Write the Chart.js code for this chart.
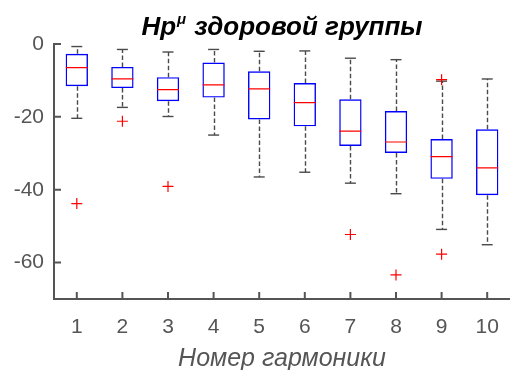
<!DOCTYPE html>
<html>
<head>
<meta charset="utf-8">
<script src="https://cdn.jsdelivr.net/npm/chart.js@4.4.1/dist/chart.umd.min.js"></script>
<style>
  body { margin: 0; background: #fff; }
  #wrap { width: 510px; height: 370px; }
</style>
</head>
<body>
<div id="wrap"><canvas id="myChart" width="510" height="370"></canvas></div>
<script>
const harmonics = ['1', '2', '3', '4', '5', '6', '7', '8', '9', '10'];

// box statistics
const whiskerHigh = [-0.7, -1.5, -2.2, -1.5, -2.0, -1.9, -3.9, -4.3, -10.2, -9.6];
const upperQuart = [-2.7, -6.3, -9.1, -5.1, -7.5, -10.7, -15.2, -18.4, -26.1, -23.4];
const medians = [-6.5, -9.6, -12.5, -11.2, -12.3, -16.1, -23.9, -26.9, -30.9, -34.0];
const lowerQuart = [-11.6, -12.1, -15.7, -14.7, -20.7, -22.6, -28.0, -29.9, -37.0, -41.5];
const whiskerLow = [-20.4, -17.4, -19.9, -25.0, -36.5, -35.2, -38.2, -41.1, -50.9, -55.1];

const outliers = [
    { x: '1', y: -43.8 },
    { x: '2', y: -21.2 },
    { x: '3', y: -39.1 },
    { x: '7', y: -52.3 },
    { x: '8', y: -63.4 },
    { x: '9', y: -9.8 },
    { x: '9', y: -57.7 }
];

const yTicks = [0, -20, -40, -60];

const axisColor = '#555555';
const whiskerColor = '#4a4a4a';
const font = 'Liberation Sans, Arial, sans-serif';

// dashed whiskers + inward ticks + title, drawn through the chart scales
const boxExtras = {
    id: 'boxExtras',
    beforeDatasetsDraw(chart) {
        const { ctx, scales: { x, y } } = chart;
        ctx.save();
        ctx.strokeStyle = whiskerColor;
        ctx.lineWidth = 1.4;
        ctx.setLineDash([4.5, 2.5]);
        harmonics.forEach((h, i) => {
            const px = Math.round(x.getPixelForValue(i)) + 0.5;
            ctx.beginPath();
            ctx.moveTo(px, y.getPixelForValue(upperQuart[i]));
            ctx.lineTo(px, y.getPixelForValue(whiskerHigh[i]));
            ctx.moveTo(px, y.getPixelForValue(lowerQuart[i]));
            ctx.lineTo(px, y.getPixelForValue(whiskerLow[i]));
            ctx.stroke();
        });
        ctx.restore();
    },
    afterDraw(chart) {
        const { ctx, chartArea, scales: { x, y } } = chart;
        ctx.save();
        ctx.strokeStyle = axisColor;
        ctx.lineWidth = 2;
        ctx.beginPath();
        harmonics.forEach((h, i) => {
            const px = x.getPixelForValue(i);
            ctx.moveTo(px, chartArea.bottom);
            ctx.lineTo(px, chartArea.bottom - 7);
        });
        yTicks.forEach(v => {
            const py = y.getPixelForValue(v);
            ctx.moveTo(chartArea.left, py);
            ctx.lineTo(chartArea.left + 7, py);
        });
        ctx.stroke();

        // title with superscript mu
        const cx = (chartArea.left + chartArea.right) / 2;
        const big = 'italic bold 26px ' + font;
        const small = 'italic bold 15px ' + font;
        const t1 = 'Hp', t2 = '\u03bc', t3 = ' здоровой группы';
        ctx.font = big;
        const w1 = ctx.measureText(t1).width;
        const w3 = ctx.measureText(t3).width;
        ctx.font = small;
        const w2 = ctx.measureText(t2).width + 2;
        let sx = cx - (w1 + w2 + w3) / 2;
        const base = 35;
        ctx.fillStyle = '#000';
        ctx.textBaseline = 'alphabetic';
        ctx.textAlign = 'left';
        ctx.font = big;
        ctx.fillText(t1, sx, base);
        ctx.font = small;
        ctx.fillText(t2, sx + w1 + 1, base - 11);
        ctx.font = big;
        ctx.fillText(t3, sx + w1 + w2, base);
        ctx.restore();
    }
};

const ctx = document.getElementById('myChart');

new Chart(ctx, {
    type: 'bar',
    data: {
        labels: harmonics,
        datasets: [{
            label: 'box',
            data: harmonics.map((h, i) => [lowerQuart[i], upperQuart[i]]),
            backgroundColor: 'rgba(0,0,0,0)',
            borderColor: '#0000ff',
            borderWidth: 1.4,
            borderSkipped: false,
            barPercentage: 0.49,
            categoryPercentage: 1.0,
            order: 3
        }, {
            type: 'line',
            label: 'median',
            data: medians,
            showLine: false,
            pointStyle: 'line',
            pointRadius: 11,
            pointBorderColor: '#ff0000',
            pointBorderWidth: 1.2,
            order: 1
        }, {
            type: 'line',
            label: 'cap high',
            data: whiskerHigh,
            showLine: false,
            pointStyle: 'line',
            pointRadius: 5.5,
            pointBorderColor: whiskerColor,
            pointBorderWidth: 1.4,
            order: 2
        }, {
            type: 'line',
            label: 'cap low',
            data: whiskerLow,
            showLine: false,
            pointStyle: 'line',
            pointRadius: 5.5,
            pointBorderColor: whiskerColor,
            pointBorderWidth: 1.4,
            order: 2
        }, {
            type: 'line',
            label: 'outliers',
            data: outliers,
            showLine: false,
            pointStyle: 'cross',
            pointRadius: 5.5,
            pointBorderColor: '#ff0000',
            pointBorderWidth: 1.2,
            order: 0
        }]
    },
    options: {
        responsive: false,
        animation: false,
        events: [],
        layout: {
            autoPadding: false,
            padding: { top: 44, left: 0, right: 0, bottom: 0 }
        },
        plugins: {
            legend: { display: false },
            tooltip: { enabled: false },
            title: { display: false }
        },
        scales: {
            x: {
                offset: true,
                grid: { display: false, drawTicks: false },
                border: { display: true, color: axisColor, width: 2 },
                ticks: {
                    color: axisColor,
                    padding: 16,
                    font: { family: font, size: 21 }
                },
                title: {
                    display: true,
                    text: 'Номер гармоники',
                    color: axisColor,
                    padding: { top: 0, bottom: -4 },
                    font: { family: font, size: 25, style: 'italic' }
                },
                afterFit(scale) {
                    scale.height = 71;
                    scale.paddingLeft = 0;
                    scale.paddingRight = 0;
                }
            },
            y: {
                min: -70,
                max: 0,
                afterBuildTicks(scale) {
                    scale.ticks = yTicks.map(v => ({ value: v }));
                },
                grid: { display: false, drawTicks: false },
                border: { display: true, color: axisColor, width: 2 },
                ticks: {
                    color: axisColor,
                    padding: 10,
                    font: { family: font, size: 21 }
                },
                afterFit(scale) {
                    scale.width = 54;
                }
            }
        }
    },
    plugins: [boxExtras]
});
</script>
</body>
</html>
